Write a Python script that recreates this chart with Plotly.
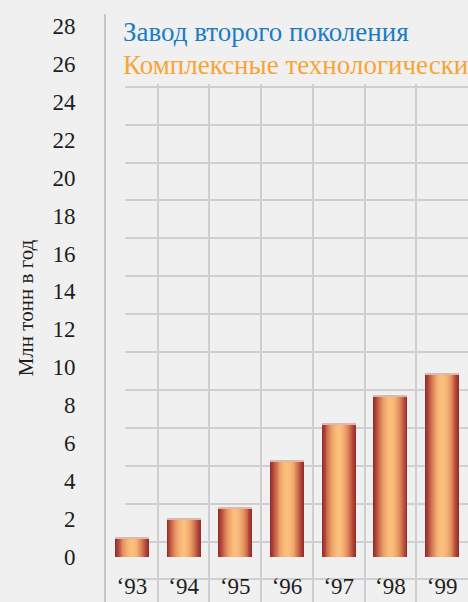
import plotly.graph_objects as go

# ---- data ----
categories = ["‘93", "‘94", "‘95", "‘96", "‘97", "‘98", "‘99"]
values = [1.02, 2.03, 2.64, 5.09, 7.04, 8.55, 9.68]
y_tick_values = list(range(0, 29, 2))
y_tick_labels = [str(v) for v in y_tick_values]
series_names = ["Завод второго поколения", "Комплексные технологические линии"]
series_colors = ["#1b7cc5", "#f6a536"]
y_title = "Млн тонн в год"

# ---- layout geometry ----
W, H = 468, 602
ML, MR, MT, MB = 106, 0, 14, 0
PW, PH = W - ML - MR, H - MT - MB
y_range = [-2.39, 28.64]
x_range = [-0.5, len(categories) - 0.5]

grid_left_px = 125
grid_top_px = 84
gx0 = (grid_left_px - ML) / PW
gy1 = (H - MB - grid_top_px) / PH
xu = PW / (x_range[1] - x_range[0])
yu = PH / (y_range[1] - y_range[0])
gx_range = [x_range[0] + (grid_left_px - ML) / xu, x_range[1]]
gy_range = [y_range[0], y_range[0] + gy1 * PH / yu]

font_family = "Liberation Serif"
bg = "#f0f0f0"
grid_color = "#cfcfd1"
text_color = "#1e1e1e"

fig = go.Figure()

fig.add_trace(go.Scatter(x=[], y=[], xaxis="x", yaxis="y", showlegend=False, hoverinfo="skip"))

edge_to_center = [
    (0.00, (148, 40, 44)),
    (0.15, (172, 66, 54)),
    (0.35, (206, 112, 78)),
    (0.55, (233, 154, 100)),
    (0.78, (247, 182, 118)),
    (1.00, (251, 192, 126)),
]

def color_at(s):
    for (a, ca), (b, cb) in zip(edge_to_center[:-1], edge_to_center[1:]):
        if a <= s <= b:
            f = (s - a) / (b - a) if b > a else 0
            c = [round(ca[i] + (cb[i] - ca[i]) * f) for i in range(3)]
            return "rgb(%d,%d,%d)" % tuple(c)
    return "rgb(%d,%d,%d)" % edge_to_center[-1][1]

bar_width = 0.656
N = 18
for k in range(N):
    w = bar_width * (1 - k / N)
    s = (k + 0.5) / N
    fig.add_trace(go.Bar(
        x=categories, y=values, width=w,
        marker=dict(color=color_at(s), line=dict(width=0)),
        xaxis="x2", yaxis="y2", showlegend=False, hoverinfo="skip",
    ))

# thin light highlight along the top edge of each bar
cap = 1.5 / yu
fig.add_trace(go.Bar(
    x=categories, y=[cap] * len(values), base=[v - cap for v in values], width=bar_width,
    marker=dict(color="#dcb8ae", line=dict(width=0)),
    xaxis="x2", yaxis="y2", showlegend=False, hoverinfo="skip",
))

for i, (name, col) in enumerate(zip(series_names, series_colors)):
    fig.add_annotation(
        text=name, xref="paper", yref="paper",
        x=(121 - ML) / PW, y=(H - MB - (32 + 33 * i)) / PH,
        xanchor="left", yanchor="middle", showarrow=False,
        font=dict(family=font_family, size=27, color=col),
    )

fig.update_layout(
    width=W, height=H,
    margin=dict(l=ML, r=MR, t=MT, b=MB, pad=0, autoexpand=False),
    paper_bgcolor=bg, plot_bgcolor="rgba(0,0,0,0)",
    barmode="overlay", bargap=0,
    showlegend=False,
    font=dict(family=font_family, color=text_color),
    xaxis=dict(domain=[gx0, 1], range=gx_range, type="linear", automargin=False,
               tick0=0.5, dtick=1, showgrid=True, gridcolor=grid_color, gridwidth=1.6,
               showticklabels=False, zeroline=False, showline=False, anchor="y"),
    yaxis=dict(domain=[0, gy1], range=gy_range, type="linear", automargin=False,
               tick0=0.8, dtick=2, showgrid=True, gridcolor=grid_color, gridwidth=2,
               showticklabels=False, zeroline=False, showline=False, anchor="x"),
    xaxis2=dict(domain=[0, 1], range=x_range, type="category", anchor="y2", automargin=False,
                showgrid=False, zeroline=False, showline=False,
                ticklabelposition="inside", ticks="",
                tickfont=dict(family=font_family, size=23, color=text_color)),
    yaxis2=dict(domain=[0, 1], range=y_range, anchor="x2", automargin=False,
                tickvals=y_tick_values, ticktext=y_tick_labels,
                showgrid=False, zeroline=False,
                showline=True, linecolor="#c6c6c8", linewidth=2,
                ticks="outside", ticklen=0, tickcolor="rgba(0,0,0,0)",
                ticklabelstandoff=24,
                tickfont=dict(family=font_family, size=23, color=text_color)),
)
fig.update_layout(yaxis2_title=dict(text=y_title, standoff=13,
                                    font=dict(family=font_family, size=21, color=text_color)))

fig.write_html("out.html", config={"displayModeBar": False},
               post_script="document.body.style.margin='0';")
